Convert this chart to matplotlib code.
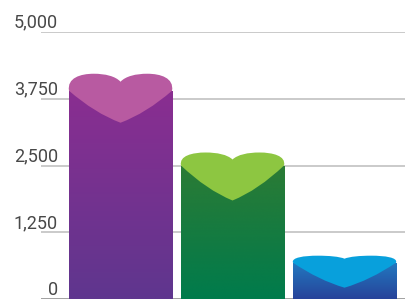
import matplotlib.pyplot as plt
import numpy as np
from matplotlib.path import Path
import matplotlib.patches as mpatches
from matplotlib.colors import to_rgb

# chart data
categories = ['A', 'B', 'C']
values = [3900, 2500, 680]
tick_values = [0, 1250, 2500, 3750, 5000]
tick_labels = ['0', '1,250', '2,500', '3,750', '5,000']

# colours per bar: (body top, body bottom, heart cap)
body_top = ['#8a2e91', '#2b7b35', '#2279c0']
body_bottom = ['#5f368e', '#007b4c', '#27439a']
cap_colors = ['#b85aa1', '#8dc641', '#08a0dc']
# heart cap shape in pixels: (height above side, dip above side, point below side)
cap_shape = [(17, 9, 32), (13, 6, 35), (7, 4, 25)]

W, H = 406, 300
fig = plt.figure(figsize=(W / 100, H / 100), dpi=100)
ax = fig.add_axes([41 / W, 1 / H, 365 / W, 267 / H])

x = np.arange(len(categories))
width = 0.92
bars = ax.bar(x, values, width, color='none', zorder=2)

px = 5000 / 267  # data units per pixel vertically

# gridlines and baseline
for tv in tick_values[1:]:
    ax.axhline(tv, color='#c6c6c6', lw=1.3, zorder=1)
ax.axhline(0, color='#9a9a9a', lw=1.3, zorder=1)

for i, bar in enumerate(bars):
    x0 = bar.get_x()
    x1 = x0 + bar.get_width()
    h = bar.get_height()
    c_top = np.array(to_rgb(body_top[i]))
    c_bot = np.array(to_rgb(body_bottom[i]))
    t = np.linspace(0, 1, 64)[:, None]
    grad = (c_top * (1 - t) + c_bot * t)[:, None, :]
    im = ax.imshow(grad, extent=[x0, x1, 0, h], aspect='auto', origin='upper',
                   interpolation='bilinear', zorder=2)
    im.set_clip_path(bar)

    # heart shaped cap
    T, D, P = cap_shape[i]
    cx = x0 + (x1 - x0) / 2
    hw = (x1 - x0) / 2

    def pt(u, v):
        return (cx + u * hw, h - v * px)

    verts = [
        pt(0, P),
        pt(-0.5, 0.7 * P), pt(-1, 0),
        pt(-1.04, -0.75 * T), pt(-0.78, -T), pt(-0.52, -T),
        pt(-0.3, -T), pt(-0.1, -0.7 * T - 0.3 * D), pt(0, -D),
        pt(0.1, -0.7 * T - 0.3 * D), pt(0.3, -T), pt(0.52, -T),
        pt(0.78, -T), pt(1.04, -0.75 * T), pt(1, 0),
        pt(0.5, 0.7 * P), pt(0, P),
    ]
    codes = [Path.MOVETO,
             Path.CURVE3, Path.CURVE3,
             Path.CURVE4, Path.CURVE4, Path.CURVE4,
             Path.CURVE4, Path.CURVE4, Path.CURVE4,
             Path.CURVE4, Path.CURVE4, Path.CURVE4,
             Path.CURVE4, Path.CURVE4, Path.CURVE4,
             Path.CURVE3, Path.CURVE3]
    ax.add_patch(mpatches.PathPatch(Path(verts, codes), facecolor=cap_colors[i],
                                    edgecolor='none', zorder=3))

ax.set_xlim(-0.71, 2.549)
ax.set_ylim(0, 5000)
ax.set_axis_off()

# tick labels sitting above the gridlines
for tv, tl in zip(tick_values, tick_labels):
    ax.annotate(tl, xy=(58 / W, tv), xycoords=('figure fraction', 'data'),
                xytext=(0, 3), textcoords='offset points', ha='right', va='baseline',
                fontsize=13, fontfamily='Roboto', color='#484848',
                annotation_clip=False)

fig.savefig('out.png', dpi=100)
